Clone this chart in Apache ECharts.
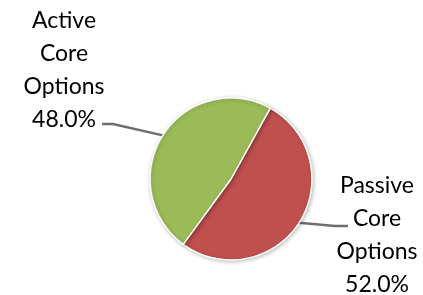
<!DOCTYPE html>
<html><head><meta charset="utf-8">
<script src="https://cdn.jsdelivr.net/npm/echarts@6/dist/echarts.min.js"></script>
<style>html,body{margin:0;padding:0;background:#fff}#c{width:423px;height:295px}</style>
</head><body><div id="c"></div>
<script>
var categories = ['Passive\nCore\nOptions', 'Active\nCore\nOptions'];
var values = [52.0, 48.0];
var colors = ['#C0504D', '#9BBB59'];
var labelPos = [[377, 235], [64, 70]];
// leader line bend/end offsets relative to label centre
var lineOffsets = [[[-42, -9], [-29, -9]], [[49, 54], [38, 54]]];

var chart = echarts.init(document.getElementById('c'));
chart.setOption({
  animation: false,
  series: [{
    type: 'pie',
    center: [231, 179],
    radius: 81,
    startAngle: 61,
    clockwise: true,
    data: categories.map(function (c, i) {
      return { name: c, value: values[i], itemStyle: { color: colors[i] } };
    }),
    itemStyle: { borderColor: '#fff', borderWidth: 1.5, shadowBlur: 4, shadowColor: 'rgba(0,0,0,0.25)', shadowOffsetX: 1, shadowOffsetY: 1 },
    label: {
      show: true,
      formatter: function (p) { return p.name + '\n' + p.value.toFixed(1) + '%'; },
      fontFamily: 'Lato',
      fontSize: 23,
      lineHeight: 33,
      color: '#000',
      align: 'center'
    },
    labelLine: { show: true, lineStyle: { color: '#6E6E6E', width: 2.5 }, length: 20, length2: 10 },
    labelLayout: function (params) {
      var i = params.dataIndex;
      var p = labelPos[i];
      var o = lineOffsets[i];
      var pts = params.labelLinePoints;
      return {
        x: p[0], y: p[1], align: 'center', verticalAlign: 'middle',
        labelLinePoints: [pts[0], [p[0] + o[0][0], p[1] + o[0][1]], [p[0] + o[1][0], p[1] + o[1][1]]]
      };
    }
  }]
});
</script></body></html>
